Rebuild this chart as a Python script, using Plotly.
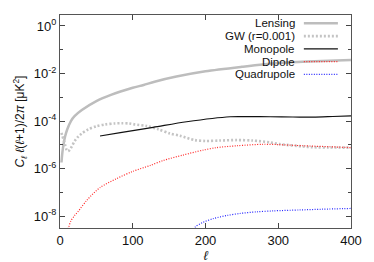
import plotly.graph_objects as go

# ---- data ----
lens_l = [2, 3, 4, 5, 7, 10, 15, 20, 30, 50, 70, 100, 115, 130, 160, 200, 250, 300, 350, 400]
lens_v = [1.8e-6, 4.0e-6, 7.1e-6, 1.12e-5, 2.24e-5, 4.5e-5, 1.0e-4, 1.6e-4, 2.9e-4, 6.9e-4,
          1.26e-3, 2.5e-3, 3.3e-3, 4.5e-3, 7.4e-3, 1.23e-2, 1.9e-2, 2.75e-2, 3.25e-2, 3.7e-2]

gw_l = [2, 3, 5, 7, 9, 11, 13, 16, 20, 25, 30, 39, 50, 62, 75, 85, 95, 103, 119, 135, 151,
        165, 185, 200, 220, 243, 265, 289, 302, 334, 348, 370, 400]
gw_v = [3.2e-5, 2.5e-5, 1.6e-5, 1.0e-5, 6.3e-6, 5.4e-6, 6.0e-6, 8.3e-6, 1.41e-5, 2.19e-5,
        3.0e-5, 4.5e-5, 6.0e-5, 7.2e-5, 7.9e-5, 8.1e-5, 7.9e-5, 7.2e-5, 6.2e-5, 4.5e-5,
        3.0e-5, 2.4e-5, 1.58e-5, 1.45e-5, 1.51e-5, 1.58e-5, 1.51e-5, 1.26e-5, 1.07e-5,
        8.5e-6, 7.9e-6, 7.7e-6, 7.6e-6]

mono_l = [55, 83, 128, 174, 234, 260, 289, 320, 348, 375, 400]
mono_v = [2.34e-5, 3.24e-5, 5.4e-5, 9.3e-5, 1.51e-4, 1.52e-4, 1.51e-4, 1.48e-4, 1.45e-4, 1.55e-4, 1.66e-4]

dip_l = [9, 12, 15, 20, 25, 37, 55, 78, 100, 124, 142, 169, 197, 215, 243, 279, 300, 334, 370, 400]
dip_v = [1.8e-9, 3.5e-9, 6.3e-9, 1.05e-8, 1.58e-8, 4.7e-8, 1.58e-7, 3.8e-7, 7.6e-7, 1.35e-6,
         2.19e-6, 3.7e-6, 6.0e-6, 7.6e-6, 9.1e-6, 1.05e-5, 1.02e-5, 9.1e-6, 8.3e-6, 7.6e-6]

quad_l = [182, 186, 195, 211, 230, 247, 270, 293, 330, 360, 400]
quad_v = [2.2e-9, 3.5e-9, 5.2e-9, 7.9e-9, 1.07e-8, 1.29e-8, 1.51e-8, 1.66e-8, 1.82e-8, 1.95e-8, 2.1e-8]

names = ["Lensing", "GW (r=0.001)", "Monopole", "Dipole", "Quadrupole"]
ytick_vals = [1e-8, 1e-6, 1e-4, 1e-2, 1e0]
ytick_text = ["10<sup>-8</sup>", "10<sup>-6</sup>", "10<sup>-4</sup>", "10<sup>-2</sup>", "10<sup>0</sup>"]
yminor_vals = [1e-7, 1e-5, 1e-3, 1e-1]
xtick_vals = [0, 100, 200, 300, 400]

styles = [
    dict(color="#bdbdbd", width=2.5, dash="solid"),
    dict(color="#c4c4c4", width=2.6, dash="2px,2px"),
    dict(color="#111111", width=1.2, dash="solid"),
    dict(color="#ff2a2a", width=1.2, dash="1px,1.5px"),
    dict(color="#2a2aff", width=1.2, dash="1px,1.5px"),
]

fig = go.Figure()
series = [(lens_l, lens_v), (gw_l, gw_v), (mono_l, mono_v), (dip_l, dip_v), (quad_l, quad_v)]
for (xs, ys), nm, st in zip(series, names, styles):
    fig.add_trace(go.Scatter(x=xs, y=ys, mode="lines", name=nm,
                             line=dict(shape="spline", smoothing=0.8, **st), showlegend=False))

# legend (gnuplot style: right aligned text, sample on the right)
row_y = [0.961, 0.901, 0.841, 0.781, 0.721]
for nm, st, yy in zip(names, styles, row_y):
    fig.add_annotation(x=0.812, y=yy, xref="paper", yref="paper", text=nm, showarrow=False,
                       xanchor="right", yanchor="middle", borderpad=0,
                       font=dict(size=11.5, color="#111"))
    fig.add_shape(type="line", x0=0.838, x1=0.955, y0=yy, y1=yy, xref="paper", yref="paper",
                  line=st)

# the page body adds an 8px offset; margins compensate for it
fig.update_layout(
    width=374, height=262,
    margin=dict(l=52, r=31, t=7, b=42),
    paper_bgcolor="white", plot_bgcolor="white",
    font=dict(family="Liberation Sans, Arial, sans-serif", size=13, color="#111"),
)
fig.update_xaxes(range=[0, 400], tickvals=xtick_vals, ticks="inside", ticklen=5, tickcolor="#444",
                 showline=True, linecolor="#555", linewidth=1.2, mirror="allticks", showgrid=False,
                 zeroline=False, automargin=False,
                 title=dict(text="<i>ℓ</i>", standoff=2, font=dict(size=13)))
fig.update_yaxes(type="log", range=[-8.5, 0.46], tickvals=ytick_vals, ticktext=ytick_text,
                 ticks="inside", ticklen=5, tickcolor="#444",
                 minor=dict(tickvals=yminor_vals, ticks="inside", ticklen=3, tickcolor="#444"),
                 showline=True, linecolor="#555", linewidth=1.2, mirror="allticks", showgrid=False,
                 zeroline=False, automargin=False,
                 title=dict(text="<i>C</i><sub><i>ℓ</i></sub> <i>ℓ</i>(<i>ℓ</i>+1)/2<i>π</i> [μK<sup>2</sup>]",
                            standoff=6, font=dict(size=12)))

fig.write_html("out.html")
